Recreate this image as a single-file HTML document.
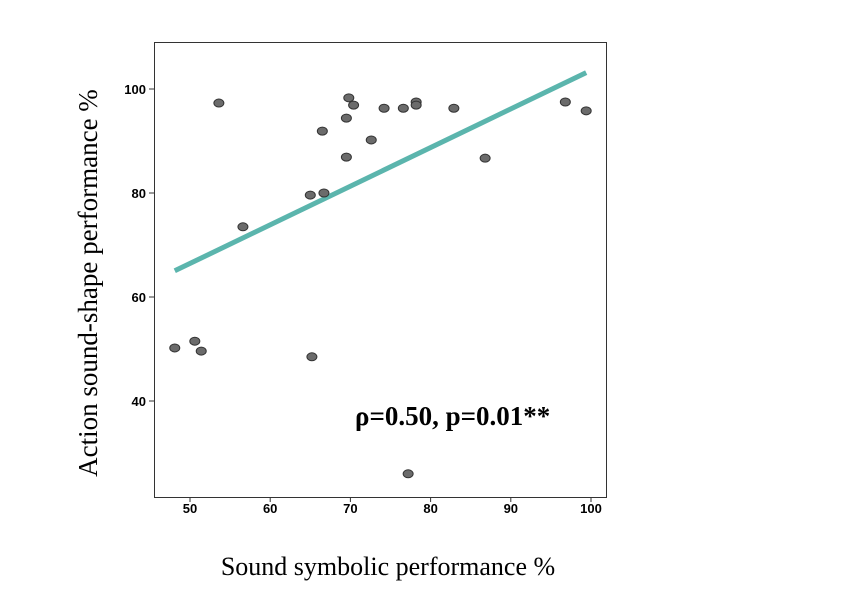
<!DOCTYPE html>
<html><head><meta charset="utf-8"><style>
body{margin:0;background:#fff;}
svg text{font-family:"Liberation Sans",sans-serif;}
</style></head><body>
<svg width="842" height="604">
<rect x="154.5" y="42.5" width="452" height="455" fill="none" stroke="#333" stroke-width="1"/>
<g id="xt"></g>
<g id="yt"></g>
<g id="fit"></g>
<g id="pts"></g>
<text x="388" y="575" text-anchor="middle" font-size="26" style="font-family:'Liberation Serif',serif">Sound symbolic performance %</text>
<text transform="translate(97,283) rotate(-90)" text-anchor="middle" font-size="27" style="font-family:'Liberation Serif',serif">Action sound-shape performance %</text>
<text x="355" y="425" font-size="27" font-weight="bold" style="font-family:'Liberation Serif',serif">ρ=0.50, p=0.01**</text>
</svg>
<script>
const xVals=[48.1,50.6,51.4,53.6,56.6,65.0,65.2,66.5,66.7,69.5,69.5,69.8,70.4,72.6,74.2,76.6,77.2,78.2,78.2,82.9,86.8,96.8,99.4];
const yVals=[50.2,51.5,49.6,97.3,73.5,79.6,48.5,91.9,80.0,86.9,94.4,98.3,96.9,90.2,96.3,96.3,26.0,97.5,96.9,96.3,86.7,97.5,95.8];
const xTicks=[50,60,70,80,90,100];
const yTicks=[40,60,80,100];
const fitIntercept=29.3, fitSlope=0.743;
const fitRange=[48.1,99.4];
const NS="http://www.w3.org/2000/svg";
const sx=v=>190+(v-50)*8.02;
const sy=v=>89+(100-v)*5.2;
function mk(t,a,p){const e=document.createElementNS(NS,t);for(const k in a)e.setAttribute(k,a[k]);p.appendChild(e);return e;}
const xt=document.getElementById('xt');
xTicks.forEach(v=>{
const l=mk('line',{x1:sx(v),x2:sx(v),y1:497,y2:502,stroke:'#333'},xt);


const t=mk('text',{x:sx(v),y:513,'text-anchor':'middle','font-size':13,'font-weight':'bold'},xt);
t.textContent=v;


});
const yt=document.getElementById('yt');
yTicks.forEach(v=>{
const l=mk('line',{x1:149,x2:154,y1:sy(v),y2:sy(v),stroke:'#333'},yt);


const t=mk('text',{x:146,y:sy(v)+5,'text-anchor':'end','font-size':13,'font-weight':'bold'},yt);
t.textContent=v;


});
const fit=document.getElementById('fit');
const fl=mk('line',{x1:sx(fitRange[0]),y1:sy(fitIntercept+fitSlope*fitRange[0]),x2:sx(fitRange[1]),y2:sy(fitIntercept+fitSlope*fitRange[1]),stroke:'#5bb5ad','stroke-width':5},fit);


const pts=document.getElementById('pts');
xVals.forEach((x,i)=>{
const c=mk('ellipse',{cx:sx(x),cy:sy(yVals[i]),rx:5,ry:4,fill:'#6b6b6b',stroke:'#333','stroke-width':1},pts);


});
</script>
</body></html>
